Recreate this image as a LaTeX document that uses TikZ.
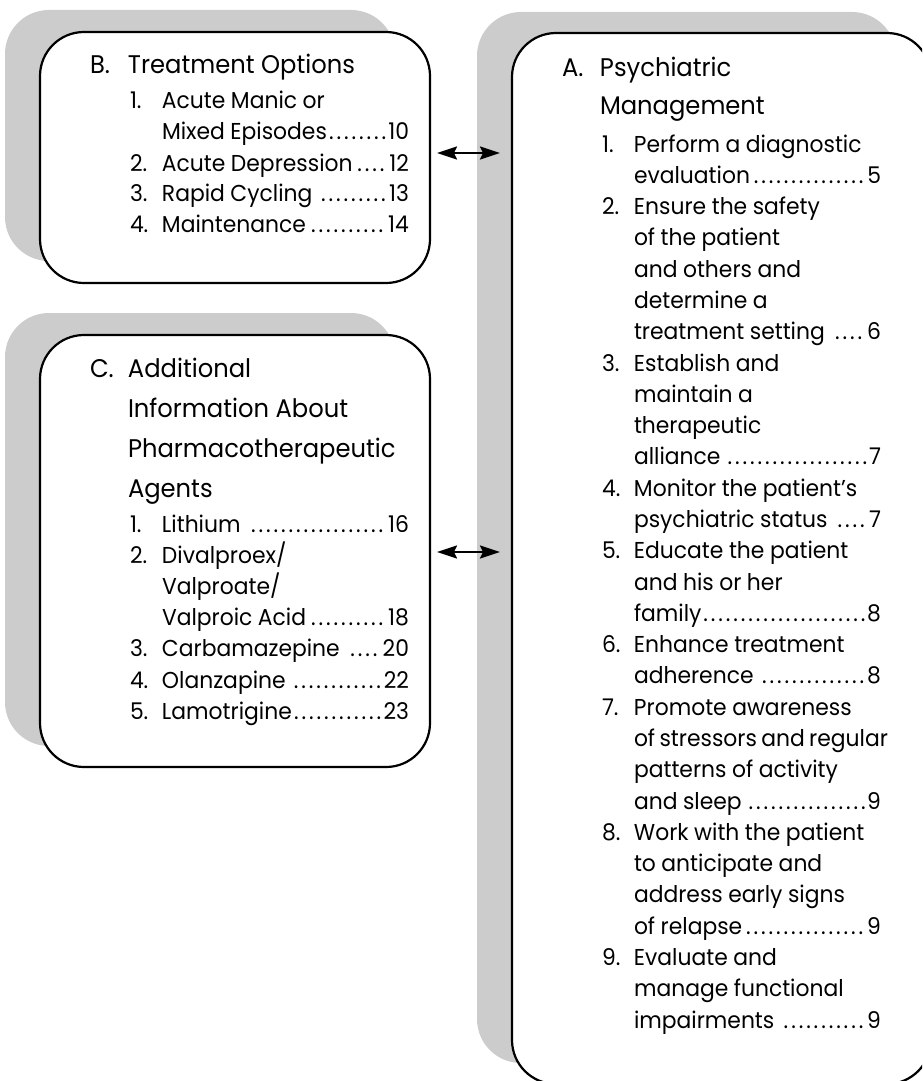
\documentclass[tikz,border=0pt]{standalone}
\usepackage{fontspec}
\setmainfont{Poppins}[FakeStretch=0.95]
\usetikzlibrary{arrows.meta,calc}
\definecolor{shade}{RGB}{204,204,204}
\newcommand\mydots{\cleaders\hbox to 7.5pt{\hss.\hss}\hfill}
\newcommand\IF{\fontsize{23}{31}\selectfont\spaceskip=0.24em plus 0.05em minus 0.05em\relax}
\newcommand\HF{\fontsize{25.5}{40}\selectfont}
\newcommand\hdline[2]{\hbox{\HF\hbox to 38pt{#1\hfil}#2}}
\newcommand\itline[2]{\hbox{\IF\hskip40pt\hbox to 279pt{\hbox to 32pt{#1\hfil}#2\hfil}}}
\newcommand\itpage[3]{\hbox{\IF\hskip40pt\hbox to 279pt{\hbox to 32pt{#1\hfil}#2\mydots#3}}}
\begin{document}
\begin{tikzpicture}[x=1pt,y=1pt,
  shadowbox/.style={fill=shade, rounded corners=44pt, inner sep=0pt, outer sep=0pt, anchor=north west},
  mainbox/.style={draw=black, line width=2.2pt, fill=white, rounded corners=44pt, inner sep=0pt, outer sep=0pt, anchor=north west},
  txt/.style={anchor=base west, inner sep=0pt, outer sep=0pt},
  biarrow/.style={{Stealth[length=20pt,width=13pt,inset=3pt]}-{Stealth[length=20pt,width=13pt,inset=3pt]}, line width=2.2pt}]
\useasboundingbox (0,0) rectangle (922,-1081);
\clip (0,0) rectangle (922,-1081);
% shadows
\node[shadowbox, minimum width=390pt, minimum height=251pt] (Bs) at (5,-10) {};
\node[shadowbox, minimum width=390pt, minimum height=433pt] (Cs) at (5,-313) {};
\node[shadowbox, minimum width=419pt, minimum height=1051pt] (As) at (477,-12) {};
% boxes
\node[mainbox, minimum width=390pt, minimum height=251pt] (B) at (40,-32) {};
\node[mainbox, minimum width=390pt, minimum height=432pt] (C) at (40,-335) {};
\node[mainbox, minimum width=419pt, minimum height=1051pt] (A) at (512,-33) {};
% texts
\node[txt] (Btext) at (90,-74) {\vtop{\lineskiplimit=-1000pt
  \hdline{B.}{Treatment Options}
  \baselineskip=35pt
  \itline{1.}{Acute Manic or}
  \baselineskip=31pt
  \itpage{}{Mixed Episodes}{10}
  \itpage{2.}{Acute Depression}{12}
  \itpage{3.}{Rapid Cycling\ }{13}
  \itpage{4.}{Maintenance}{14}}};
\node[txt] (Ctext) at (90,-377) {\vtop{\lineskiplimit=-1000pt
  \baselineskip=40pt
  \hdline{C.}{Additional}
  \hdline{}{Information About}
  \hdline{}{Pharmacotherapeutic}
  \hdline{}{Agents}
  \baselineskip=35pt
  \itpage{1.}{Lithium\ }{16}
  \baselineskip=31.2pt
  \itline{2.}{Divalproex/}
  \itline{}{Valproate/}
  \itpage{}{Valproic Acid}{18}
  \itpage{3.}{Carbamazepine\ }{20}
  \itpage{4.}{Olanzapine\ }{22}
  \itpage{5.}{Lamotrigine}{23}}};
\node[txt] (Atext) at (562,-76) {\vtop{\lineskiplimit=-1000pt
  \baselineskip=39pt
  \hdline{A.}{Psychiatric}
  \hdline{}{Management}
  \baselineskip=37pt
  \itline{1.}{Perform a diagnostic}
  \baselineskip=31.29pt
  \itpage{}{evaluation}{5}
  \itline{2.}{Ensure the safety}
  \itline{}{of the patient}
  \itline{}{and others and}
  \itline{}{determine a}
  \itpage{}{treatment setting\ }{6}
  \itline{3.}{Establish and}
  \itline{}{maintain a}
  \itline{}{therapeutic}
  \itpage{}{alliance\ }{7}
  \itline{4.}{Monitor the patient’s}
  \itpage{}{psychiatric status\ }{7}
  \itline{5.}{Educate the patient}
  \itline{}{and his or her}
  \itpage{}{family}{8}
  \itline{6.}{Enhance treatment}
  \itpage{}{adherence\ }{8}
  \itline{7.}{Promote awareness}
  \itline{}{of stressors and regular}
  \itline{}{patterns of activity}
  \itpage{}{and sleep\ }{9}
  \itline{8.}{Work with the patient}
  \itline{}{to anticipate and}
  \itline{}{address early signs}
  \itpage{}{of relapse}{9}
  \itline{9.}{Evaluate and}
  \itline{}{manage functional}
  \itpage{}{impairments\ }{9}}};
% connectors
\path (B.east) ++(7pt,4.5pt) coordinate (b1);
\path (A.west |- b1) ++(-12pt,0pt) coordinate (a1);
\path (C.east) ++(7pt,-1pt) coordinate (c1);
\path (A.west |- c1) ++(-12pt,0pt) coordinate (a2);
\draw[biarrow] (b1) -- (a1);
\draw[biarrow] (c1) -- (a2);
\end{tikzpicture}
\end{document}
